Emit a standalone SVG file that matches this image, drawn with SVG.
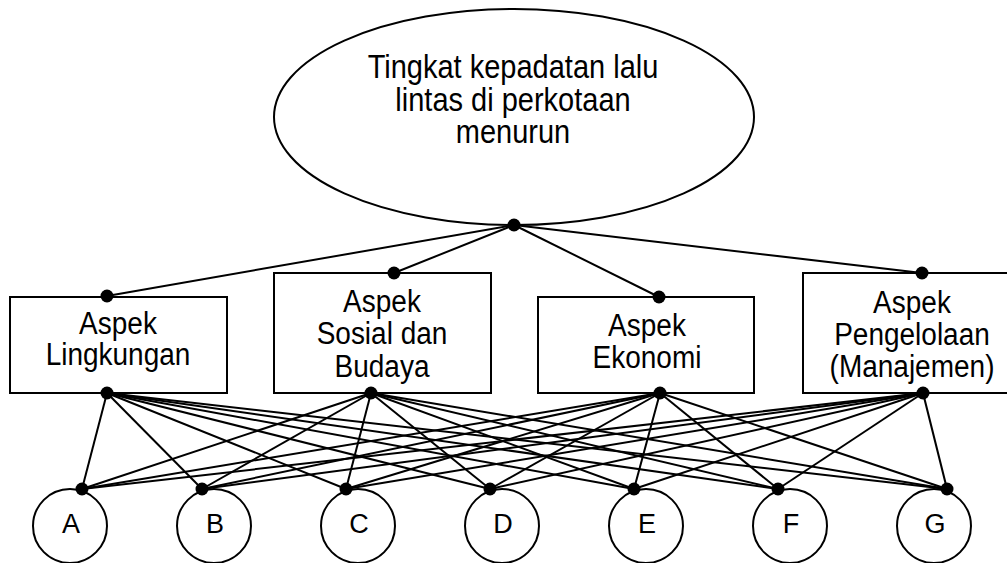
<svg xmlns="http://www.w3.org/2000/svg" width="1007" height="563" viewBox="0 0 1007 563">
<style>
.shape{fill:#fff;stroke:#000;stroke-width:2}
.lbl{font-family:"Liberation Sans",Arial,sans-serif;font-size:28px;fill:#000;text-anchor:middle}
.big{font-size:29px}
.let{font-family:"Liberation Sans",Arial,sans-serif;font-size:27px;fill:#000;text-anchor:middle}
.conn line{stroke:#000;stroke-width:2}
.dot{fill:#000}
</style>
<rect width="1007" height="563" fill="#fff"/>
<g id="goal">
<ellipse class="shape" cx="514" cy="117" rx="240" ry="108"/>
<text class="lbl big" transform="translate(513 78) scale(1 1.15)">Tingkat kepadatan lalu</text>
<text class="lbl big" transform="translate(513 111) scale(1 1.15)">lintas di perkotaan</text>
<text class="lbl big" transform="translate(513 143) scale(1 1.15)">menurun</text>
</g>
<g id="aspek-lingkungan">
<rect class="shape" x="10" y="297" width="217" height="96"/>
<text class="lbl" transform="translate(118 334) scale(1 1.1)">Aspek</text>
<text class="lbl" transform="translate(118 365) scale(1 1.1)">Lingkungan</text>
</g>
<g id="aspek-sosial">
<rect class="shape" x="274" y="273" width="217" height="120"/>
<text class="lbl" transform="translate(382 312) scale(1 1.1)">Aspek</text>
<text class="lbl" transform="translate(382 344) scale(1 1.1)">Sosial dan</text>
<text class="lbl" transform="translate(382 377) scale(1 1.1)">Budaya</text>
</g>
<g id="aspek-ekonomi">
<rect class="shape" x="538" y="297" width="216" height="96"/>
<text class="lbl" transform="translate(647 336) scale(1 1.1)">Aspek</text>
<text class="lbl" transform="translate(647 368) scale(1 1.1)">Ekonomi</text>
</g>
<g id="aspek-pengelolaan">
<rect class="shape" x="803" y="273" width="217" height="120"/>
<text class="lbl" transform="translate(912 313) scale(1 1.1)">Aspek</text>
<text class="lbl" transform="translate(912 345) scale(1 1.1)">Pengelolaan</text>
<text class="lbl" transform="translate(912 377) scale(1 1.1)">(Manajemen)</text>
</g>
<g id="alt-A"><circle class="shape" cx="70" cy="526" r="37"/><text class="let" x="71" y="533">A</text></g>
<g id="alt-B"><circle class="shape" cx="214" cy="526" r="37"/><text class="let" x="215" y="533">B</text></g>
<g id="alt-C"><circle class="shape" cx="358" cy="526" r="37"/><text class="let" x="359" y="533">C</text></g>
<g id="alt-D"><circle class="shape" cx="502" cy="526" r="37"/><text class="let" x="503" y="533">D</text></g>
<g id="alt-E"><circle class="shape" cx="646" cy="526" r="37"/><text class="let" x="647" y="533">E</text></g>
<g id="alt-F"><circle class="shape" cx="790" cy="526" r="37"/><text class="let" x="791" y="533">F</text></g>
<g id="alt-G"><circle class="shape" cx="934" cy="526" r="37"/><text class="let" x="935" y="533">G</text></g>
<g id="connectors" class="conn">
<line x1="514" y1="225" x2="107" y2="296"/>
<line x1="514" y1="225" x2="394" y2="273"/>
<line x1="514" y1="225" x2="659" y2="297"/>
<line x1="514" y1="225" x2="922" y2="273"/>
<line x1="107" y1="393" x2="82" y2="489"/>
<line x1="107" y1="393" x2="202" y2="489"/>
<line x1="107" y1="393" x2="346" y2="489"/>
<line x1="107" y1="393" x2="490" y2="489"/>
<line x1="107" y1="393" x2="634" y2="489"/>
<line x1="107" y1="393" x2="778" y2="489"/>
<line x1="107" y1="393" x2="947" y2="489"/>
<line x1="371" y1="393" x2="82" y2="489"/>
<line x1="371" y1="393" x2="202" y2="489"/>
<line x1="371" y1="393" x2="346" y2="489"/>
<line x1="371" y1="393" x2="490" y2="489"/>
<line x1="371" y1="393" x2="634" y2="489"/>
<line x1="371" y1="393" x2="778" y2="489"/>
<line x1="371" y1="393" x2="947" y2="489"/>
<line x1="660" y1="393" x2="82" y2="489"/>
<line x1="660" y1="393" x2="202" y2="489"/>
<line x1="660" y1="393" x2="346" y2="489"/>
<line x1="660" y1="393" x2="490" y2="489"/>
<line x1="660" y1="393" x2="634" y2="489"/>
<line x1="660" y1="393" x2="778" y2="489"/>
<line x1="660" y1="393" x2="947" y2="489"/>
<line x1="923" y1="393" x2="82" y2="489"/>
<line x1="923" y1="393" x2="202" y2="489"/>
<line x1="923" y1="393" x2="346" y2="489"/>
<line x1="923" y1="393" x2="490" y2="489"/>
<line x1="923" y1="393" x2="634" y2="489"/>
<line x1="923" y1="393" x2="778" y2="489"/>
<line x1="923" y1="393" x2="947" y2="489"/>
<circle class="dot" cx="514" cy="225" r="6.5"/>
<circle class="dot" cx="107" cy="296" r="6.5"/>
<circle class="dot" cx="394" cy="273" r="6.5"/>
<circle class="dot" cx="659" cy="297" r="6.5"/>
<circle class="dot" cx="922" cy="273" r="6.5"/>
<circle class="dot" cx="107" cy="393" r="6.5"/>
<circle class="dot" cx="371" cy="393" r="6.5"/>
<circle class="dot" cx="660" cy="393" r="6.5"/>
<circle class="dot" cx="923" cy="393" r="6.5"/>
<circle class="dot" cx="82" cy="489" r="6.5"/>
<circle class="dot" cx="202" cy="489" r="6.5"/>
<circle class="dot" cx="346" cy="489" r="6.5"/>
<circle class="dot" cx="490" cy="489" r="6.5"/>
<circle class="dot" cx="634" cy="489" r="6.5"/>
<circle class="dot" cx="778" cy="489" r="6.5"/>
<circle class="dot" cx="947" cy="489" r="6.5"/>
</g>
</svg>
